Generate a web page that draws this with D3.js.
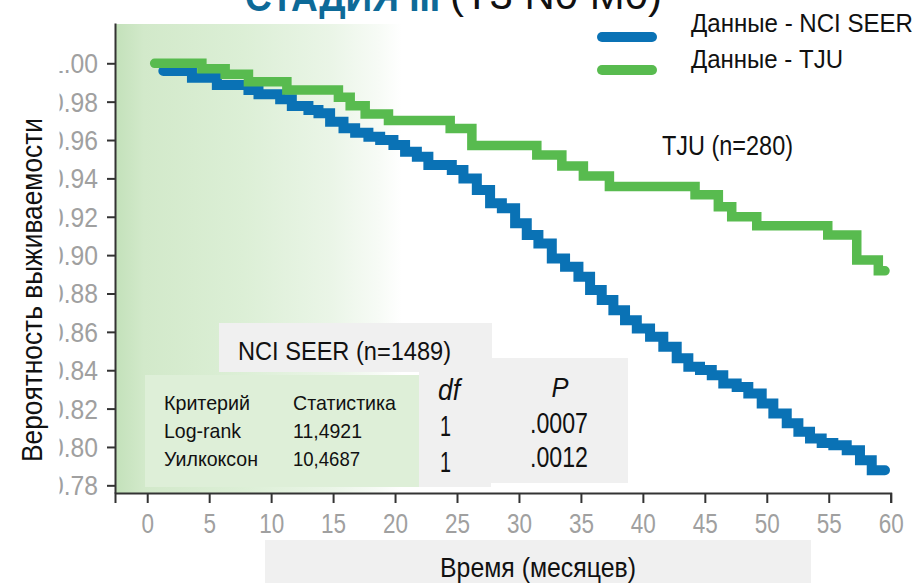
<!DOCTYPE html>
<html>
<head>
<meta charset="utf-8">
<script src="https://cdn.jsdelivr.net/npm/d3@7/dist/d3.min.js"></script>
<style>
  html, body { margin: 0; padding: 0; background: #fff; }
  svg { display: block; }
  text { font-family: "Liberation Sans", Arial, sans-serif; }
</style>
</head>
<body>
<div id="chart"></div>
<script>
// Kaplan-Meier curves (months, survival)
const nciMonths = [1.3, 3.61, 5.62, 8.17, 8.98, 10.73, 11.67, 13.01, 13.82, 14.76, 15.84, 16.78, 17.85, 18.80, 19.87, 20.81, 21.76, 22.69, 24.58, 25.52, 26.60, 27.67, 28.62, 29.69, 30.63, 31.57, 32.65, 33.72, 34.80, 35.74, 36.68, 37.62, 38.56, 39.51, 40.58, 41.65, 42.73, 43.67, 44.61, 45.56, 46.49, 47.57, 48.51, 49.59, 50.53, 51.61, 52.55, 53.49, 54.43, 55.37, 56.45, 57.52, 58.47, 59.54];
const nciSurv = [0.996, 0.9925, 0.9887, 0.9861, 0.9838, 0.9812, 0.9777, 0.9756, 0.9739, 0.9695, 0.9661, 0.9638, 0.9617, 0.9600, 0.9574, 0.9539, 0.9513, 0.9470, 0.9444, 0.9400, 0.9339, 0.9270, 0.9244, 0.9166, 0.9105, 0.9061, 0.8983, 0.8939, 0.8887, 0.8818, 0.8766, 0.8713, 0.8661, 0.8618, 0.8574, 0.8522, 0.8462, 0.8418, 0.8401, 0.8374, 0.8331, 0.8313, 0.8279, 0.8227, 0.8175, 0.8123, 0.8079, 0.8044, 0.8021, 0.8009, 0.7983, 0.7931, 0.7879, 0.7879];

const tjuMonths = [0.6, 4.41, 6.29, 8.17, 11.27, 15.43, 16.38, 17.59, 19.47, 24.45, 26.2, 31.44, 33.46, 35.2, 37.3, 44.21, 46.09, 47.17, 49.19, 54.92, 57.26, 59.0, 59.54];
const tjuSurv = [1.0, 0.9972, 0.9943, 0.9904, 0.9861, 0.9823, 0.9779, 0.9735, 0.9702, 0.966, 0.9571, 0.9522, 0.9464, 0.9412, 0.9358, 0.9315, 0.9252, 0.92, 0.9153, 0.9105, 0.8974, 0.8918, 0.8918];

const seriesNames = ["Данные - NCI SEER", "Данные - TJU"];
const seriesColors = ["#0a72b5", "#58bb4f"];

const xTicks = [0, 5, 10, 15, 20, 25, 30, 35, 40, 45, 50, 55, 60];
const yTicks = [0.78, 0.80, 0.82, 0.84, 0.86, 0.88, 0.90, 0.92, 0.94, 0.96, 0.98, 1.00];

// log-rank / Wilcoxon table
const testNames = ["Log-rank", "Уилкоксон"];
const testStats = ["11,4921", "10,4687"];
const testDf = ["1", "1"];
const testP = [".0007", ".0012"];

const width = 918, height = 583;
const svg = d3.select('#chart').append('svg')
    .attr('width', width)
    .attr('height', height);

const x = d3.scaleLinear().domain([-2.6, 60]).range([115, 890.7]);
const y = d3.scaleLinear().domain([0.776, 1.021]).range([493, 23]);

// shaded green background fading to white
const defs = svg.append('defs');
const grad = defs.append('linearGradient').attr('id', 'bgfade')
    .attr('x1', '0%').attr('x2', '100%').attr('y1', '0%').attr('y2', '0%');
[[0, '#c3e1ba'], [0.1, '#d2e9ca'], [0.45, '#dcefd6'], [0.75, '#eaf5e7'], [0.92, '#f7fbf6'], [1, '#ffffff']]
    .forEach(s => grad.append('stop').attr('offset', s[0]).attr('stop-color', s[1]));
svg.append('rect').attr('x', 115).attr('y', 24).attr('width', 287).attr('height', 469)
    .attr('fill', 'url(#bgfade)');

// title (cut at the top of the picture, as in the source)
svg.append('text').attr('x', 245).attr('y', 11)
    .attr('font-weight', 'bold').attr('font-size', 40).attr('fill', '#0d6a98')
    .attr('textLength', 195).attr('lengthAdjust', 'spacingAndGlyphs')
    .text('СТАДИЯ III');
svg.append('text').attr('x', 450).attr('y', 9)
    .attr('font-size', 40).attr('fill', '#111')
    .attr('textLength', 212).attr('lengthAdjust', 'spacingAndGlyphs')
    .text('(T3 N0 M0)');

// stats boxes
svg.append('rect').attr('x', 219).attr('y', 323).attr('width', 273).attr('height', 49).attr('fill', '#f0f0f0');
svg.append('rect').attr('x', 419).attr('y', 358).attr('width', 209).attr('height', 125).attr('fill', '#f0f0f0');
svg.append('rect').attr('x', 419).attr('y', 470).attr('width', 72).attr('height', 17).attr('fill', '#f0f0f0');
svg.append('rect').attr('x', 145).attr('y', 375).attr('width', 274).attr('height', 112).attr('fill', '#deefd8');

// x axis title box
svg.append('rect').attr('x', 265).attr('y', 540).attr('width', 546).attr('height', 43).attr('fill', '#f0f0f0');

// axes
const xAxis = svg.append('g').attr('transform', 'translate(0,493)')
    .call(d3.axisBottom(x).tickValues(xTicks).tickSize(10).tickSizeOuter(10).tickFormat(d3.format('d')));
xAxis.selectAll('text').attr('y', 40).attr('dy', 0)
    .attr('font-size', 28).attr('fill', '#a0a0a0')
    .attr('textLength', d => String(d).length * 12.5).attr('lengthAdjust', 'spacingAndGlyphs');

const yAxis = svg.append('g').attr('transform', 'translate(115,0)')
    .call(d3.axisLeft(y).tickValues(yTicks).tickSize(8).tickSizeOuter(0).tickFormat(d3.format('.2f')));
yAxis.selectAll('text').attr('x', -17).attr('dy', '0.35em')
    .attr('font-size', 27).attr('fill', '#a0a0a0')
    .attr('textLength', 48).attr('lengthAdjust', 'spacingAndGlyphs');

[xAxis, yAxis].forEach(g => {
    g.attr('font-family', null);
    g.select('.domain').attr('stroke', '#333').attr('stroke-width', 2);
    g.selectAll('.tick line').attr('stroke', '#333').attr('stroke-width', 2);
});

// white strip that hides the left part of the y labels, as in the source
svg.append('rect').attr('x', 0).attr('y', 40).attr('width', 59.5).attr('height', 460).attr('fill', '#fff');

// survival curves
const line = d3.line()
    .x(d => x(d[0]))
    .y(d => y(d[1]))
    .curve(d3.curveStepAfter);

const series = [
    { name: seriesNames[0], data: d3.zip(nciMonths, nciSurv), color: seriesColors[0], w: 10 },
    { name: seriesNames[1], data: d3.zip(tjuMonths, tjuSurv), color: seriesColors[1], w: 9.5 }
];

svg.append('g').selectAll('path')
    .data(series)
    .enter().append('path')
    .attr('d', d => line(d.data))
    .attr('fill', 'none')
    .attr('stroke', d => d.color)
    .attr('stroke-width', d => d.w)
    .attr('stroke-linecap', 'round')
    .attr('stroke-linejoin', 'miter');

// legend
const legend = svg.append('g').selectAll('g')
    .data(series)
    .enter().append('g');
legend.append('line')
    .attr('x1', 602).attr('x2', 652)
    .attr('y1', (d, i) => 37 + i * 33).attr('y2', (d, i) => 37 + i * 33)
    .attr('stroke', d => d.color).attr('stroke-width', 10).attr('stroke-linecap', 'round');
legend.append('text')
    .attr('x', 691).attr('y', (d, i) => 32 + i * 36)
    .attr('font-size', 25).attr('fill', '#111')
    .attr('textLength', (d, i) => i === 0 ? 222 : 152).attr('lengthAdjust', 'spacingAndGlyphs')
    .text(d => d.name);

// labels
function label(txt, px, py, size, len, extra) {
    const t = svg.append('text').attr('x', px).attr('y', py)
        .attr('font-size', size).attr('fill', '#111').text(txt);
    if (len) t.attr('textLength', len).attr('lengthAdjust', 'spacingAndGlyphs');
    if (extra) extra(t);
    return t;
}

label('TJU (n=280)', 662, 155, 27, 131);
label('NCI SEER (n=1489)', 238, 360, 26, 213);

label('Критерий', 164, 410, 21, 86);
label('Статистика', 293, 410, 21, 103);
testNames.forEach((n, i) => {
    label(n, 164, 438 + i * 27.5, 21, i === 0 ? 77 : 94);
    label(testStats[i], 293, 438 + i * 27.5, 21, i === 0 ? 69 : 67);
    label(testDf[i], 440, 436 + i * 35.5, 29, 11);
    label(testP[i], 530, 432.5 + i * 34, 29, 58);
});
label('df', 438, 400, 29, 22, t => t.attr('font-style', 'italic'));
label('P', 560, 397, 28, 17, t => t.attr('font-style', 'italic').attr('text-anchor', 'middle'));

// axis titles
label('Время (месяцев)', 538, 577, 28, 196, t => t.attr('text-anchor', 'middle'));
label('Вероятность выживаемости', 0, 0, 29, 344, t => t
    .attr('text-anchor', 'middle')
    .attr('transform', 'translate(42,290) rotate(-90)'));
</script>
</body>
</html>
